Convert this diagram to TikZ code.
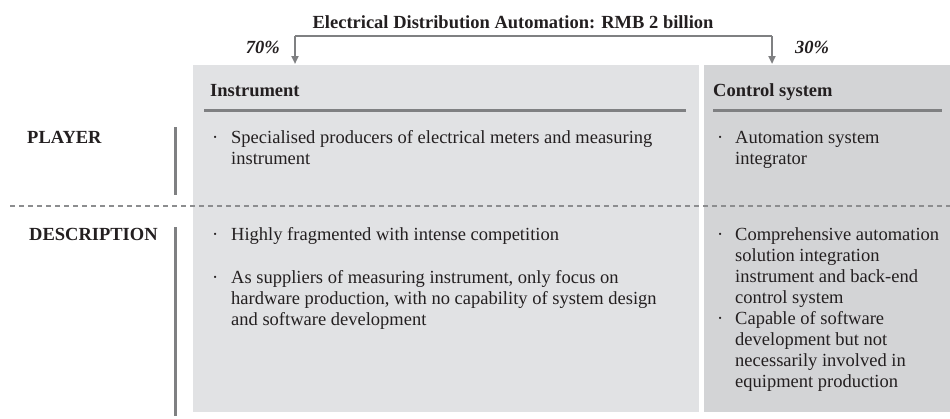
\documentclass[tikz,border=0pt]{standalone}
\usepackage{fontspec}
\setmainfont{Liberation Serif}
\usetikzlibrary{arrows.meta}
\definecolor{boxA}{HTML}{E1E2E4}
\definecolor{boxB}{HTML}{D3D4D6}
\definecolor{rulegray}{HTML}{7F8082}
\definecolor{ink}{HTML}{231F20}
\newcommand{\lines}[1]{\parbox[t]{480pt}{\raggedright #1}}
\tikzset{
  txt/.style={font=\fontsize{18.5}{21}\selectfont, text=ink, inner sep=0pt, anchor=base west},
  bold/.style={txt, font=\fontsize{18.5}{21}\selectfont\bfseries},
  dotmark/.style={txt},
  hrule/.style={rulegray, line width=3pt},
  vbar/.style={rulegray, line width=3pt},
  arr/.style={rulegray, line width=2.5pt, -{Triangle[length=8pt,width=7pt]}},
}
\begin{document}
\begin{tikzpicture}[x=1pt,y=-1pt]
\useasboundingbox (0,0) rectangle (950,418);
% boxes
\fill[boxA] (193,65) rectangle (699,412);
\fill[boxB] (704,65) rectangle (950,412);
\coordinate (boxAtop) at (295,64);
\coordinate (boxBtop) at (772,64);
% title
\node[bold, anchor=base] (title) at (513,28) {Electrical Distribution Automation: RMB 2 billion};
\node[bold, font=\fontsize{18.5}{21}\selectfont\bfseries\itshape, anchor=base east] (p70) at (280,53) {70\%};
\node[bold, font=\fontsize{18.5}{21}\selectfont\bfseries\itshape] (p30) at (795,53) {30\%};
% bracket
\coordinate (bl) at (295,36);
\coordinate (br) at (772,36);
\draw[rulegray, line width=2.5pt] (bl) -- (br);
\draw[arr] (bl) -- (boxAtop);
\draw[arr] (br) -- (boxBtop);
% headers
\node[bold] (hA) at (210,96) {Instrument};
\node[bold] (hB) at (713,96) {Control system};
\coordinate (hAl) at (204,110); \coordinate (hAr) at (686,110);
\coordinate (hBl) at (713,110); \coordinate (hBr) at (942,110);
\draw[hrule] (hAl) -- (hAr);
\draw[hrule] (hBl) -- (hBr);
% row labels
\node[bold] (player) at (27,143) {PLAYER};
\node[bold] (desc) at (29,240) {DESCRIPTION};
\coordinate (b1t) at (175,127); \coordinate (b1b) at (175,195);
\coordinate (b2t) at (175,227); \coordinate (b2b) at (175,416);
\draw[vbar] (b1t) -- (b1b);
\draw[vbar] (b2t) -- (b2b);
% dashed separator
\coordinate (dl) at (10,206); \coordinate (dr) at (950,206);
\draw[rulegray!90, line width=1.5pt, dash pattern=on 5pt off 4pt] (dl) -- (dr);
% player bullets
\node[dotmark] (d1) at (212,143) {·};
\node[txt] (t1) at (231,143) {\lines{Specialised producers of electrical meters and measuring\\instrument}};
\node[dotmark] (d2) at (717,143) {·};
\node[txt] (t2) at (735,143) {\lines{Automation system\\integrator}};
% description bullets
\node[dotmark] (d3) at (212,240) {·};
\node[txt] (t3) at (231,240) {Highly fragmented with intense competition};
\node[dotmark] (d4) at (212,283) {·};
\node[txt] (t4) at (231,283) {\lines{As suppliers of measuring instrument, only focus on\\hardware production, with no capability of system design\\and software development}};
\node[dotmark] (d5) at (717,240) {·};
\node[txt] (t5) at (735,240) {\lines{Comprehensive automation\\solution integration\\instrument and back-end\\control system}};
\node[dotmark] (d6) at (717,324) {·};
\node[txt] (t6) at (735,324) {\lines{Capable of software\\development but not\\necessarily involved in\\equipment production}};
\end{tikzpicture}
\end{document}
